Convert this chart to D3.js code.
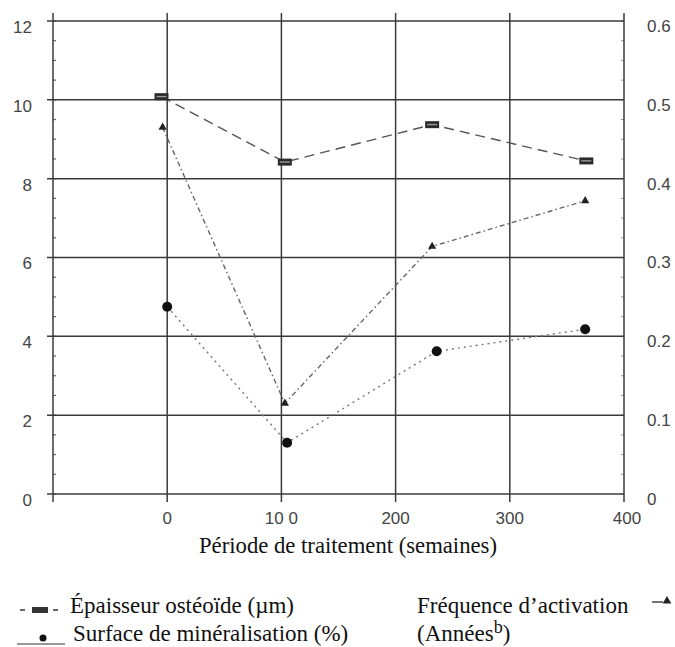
<!DOCTYPE html>
<html><head><meta charset="utf-8">
<script src="https://cdn.jsdelivr.net/npm/d3@7"></script>
<style>body{margin:0;background:#fff} .serif{font-family:'Liberation Serif','Times New Roman',serif} .sans{font-family:'Liberation Sans',Arial,sans-serif}</style>
</head><body>
<svg id="c" width="675" height="647"></svg>
<script>
// Data
const xTickValues = [0, 100, 200, 300, 400];
const xTickLabels = ["0", "10 0", "200", "300", "400"];
const yLeftTicks = [0, 2, 4, 6, 8, 10, 12];
const yRightTicks = [0, 0.1, 0.2, 0.3, 0.4, 0.5, 0.6];
const rightTickLabels = ["0", "0.1", "0.2", "0.3", "0.4", "0.5", "0.6"];

const epaisseurX = [-5, 103, 232, 367];
const epaisseurY = [10.08, 8.42, 9.37, 8.45];
const frequenceX = [-4, 103, 232, 366];
const frequenceY = [0.465, 0.115, 0.314, 0.372];
const surfaceX = [0, 105, 236, 366];
const surfaceY = [4.75, 1.3, 3.62, 4.18];

(function () {
const svg = d3.select("#c");
const pL = 53, pR = 624, pT = 21, pB = 494;
const x = d3.scaleLinear().domain([-100, 400]).range([pL, pR]);
const yL = d3.scaleLinear().domain([0, 12]).range([pB, pT]);
const yR = d3.scaleLinear().domain([0, 0.6]).range([pB, pT]);

const grid = "#3a3a3a";
// minor ticks on left/right axis
const minor = d3.range(0, 12.01, 0.5);
svg.append("g").selectAll("line").data(minor).join("line")
  .attr("x1", pL).attr("x2", pL + 3)
  .attr("y1", d => yL(d)).attr("y2", d => yL(d))
  .attr("stroke", "#666").attr("stroke-width", 1.2);
svg.append("g").selectAll("line").data(minor).join("line")
  .attr("x1", pR - 3).attr("x2", pR)
  .attr("y1", d => yL(d)).attr("y2", d => yL(d))
  .attr("stroke", "#999").attr("stroke-width", 1);

// horizontal gridlines
svg.append("g").selectAll("line").data(yLeftTicks).join("line")
  .attr("x1", pL - 6).attr("x2", pR)
  .attr("y1", d => yL(d)).attr("y2", d => yL(d))
  .attr("stroke", grid).attr("stroke-width", 1.5);
// vertical gridlines
svg.append("g").selectAll("line").data([-100].concat(xTickValues)).join("line")
  .attr("x1", d => x(d)).attr("x2", d => x(d))
  .attr("y1", pT - 8).attr("y2", pB + 8)
  .attr("stroke", grid).attr("stroke-width", 1.5);

// left axis labels
svg.append("g").selectAll("text").data(yLeftTicks).join("text")
  .attr("class", "sans")
  .attr("x", 32).attr("y", d => yL(d) + 6).attr("dy", "0.35em")
  .attr("text-anchor", "end").attr("font-size", 17)
  .attr("fill", "#444").text(d => d);
// right axis labels
svg.append("g").selectAll("text").data(yRightTicks).join("text")
  .attr("class", "sans")
  .attr("x", 647).attr("y", d => yR(d) + 5).attr("dy", "0.35em")
  .attr("text-anchor", "start").attr("font-size", 17)
  .attr("fill", "#444").text((d, i) => rightTickLabels[i]);
// x labels
svg.append("g").selectAll("text").data(xTickValues).join("text")
  .attr("class", "sans")
  .attr("x", (d, i) => x(d) + (i === 4 ? 3 : 0)).attr("y", 518).attr("dy", "0.35em")
  .attr("text-anchor", "middle").attr("font-size", 17)
  .attr("fill", "#444").text((d, i) => xTickLabels[i]);

svg.append("text").attr("class", "serif").attr("x", 348).attr("y", 553).attr("text-anchor", "middle")
  .attr("font-size", 22.7)
  .attr("fill", "#111").text("Période de traitement (semaines)");

// Lines
const lineL = d3.line().x(d => x(d[0])).y(d => yL(d[1]));
const lineR = d3.line().x(d => x(d[0])).y(d => yR(d[1]));
const epa = epaisseurX.map((v, i) => [v, epaisseurY[i]]);
const fre = frequenceX.map((v, i) => [v, frequenceY[i]]);
const sur = surfaceX.map((v, i) => [v, surfaceY[i]]);

svg.append("path").attr("d", lineL(epa)).attr("fill", "none")
  .attr("stroke", "#555").attr("stroke-width", 1.4).attr("stroke-dasharray", "10,6");
svg.append("path").attr("d", lineR(fre)).attr("fill", "none")
  .attr("stroke", "#666").attr("stroke-width", 1.4).attr("stroke-dasharray", "5,3,1.5,3");
svg.append("path").attr("d", lineL(sur)).attr("fill", "none")
  .attr("stroke", "#777").attr("stroke-width", 1.4).attr("stroke-dasharray", "2,4");

// markers
svg.append("g").selectAll("rect").data(epa).join("rect")
  .attr("x", d => x(d[0]) - 7).attr("y", d => yL(d[1]) - 3.5)
  .attr("width", 14).attr("height", 7).attr("fill", "#2a2a2a");
svg.append("g").selectAll("rect").data(epa).join("rect")
  .attr("x", d => x(d[0]) - 5).attr("y", d => yL(d[1]) - 0.8)
  .attr("width", 10).attr("height", 1.4).attr("fill", "#999");
const tri = d3.symbol().type(d3.symbolTriangle).size(30);
svg.append("g").selectAll("path").data(fre).join("path")
  .attr("transform", d => `translate(${x(d[0])},${yR(d[1])})`)
  .attr("d", tri).attr("fill", "#222");
svg.append("g").selectAll("circle").data(sur).join("circle")
  .attr("cx", d => x(d[0])).attr("cy", d => yL(d[1])).attr("r", 5).attr("fill", "#111");

// Legend
const lg = svg.append("g");
lg.append("line").attr("x1", 20).attr("x2", 25).attr("y1", 610).attr("y2", 610)
  .attr("stroke", "#666").attr("stroke-width", 2);
lg.append("line").attr("x1", 53).attr("x2", 58).attr("y1", 610).attr("y2", 610)
  .attr("stroke", "#666").attr("stroke-width", 2);
lg.append("rect").attr("x", 32).attr("y", 607).attr("width", 16).attr("height", 6).attr("fill", "#333");
lg.append("text").attr("class", "serif").attr("x", 70).attr("y", 613).attr("font-size", 23)
  .attr("fill", "#111").text("Épaisseur ostéoïde (µm)");
lg.append("line").attr("x1", 17).attr("x2", 65).attr("y1", 644).attr("y2", 644)
  .attr("stroke", "#777").attr("stroke-width", 1.3);
lg.append("circle").attr("cx", 43).attr("cy", 638).attr("r", 3.5).attr("fill", "#111");
lg.append("text").attr("class", "serif").attr("x", 73).attr("y", 641).attr("font-size", 23)
  .attr("fill", "#111").text("Surface de minéralisation (%)");
lg.append("text").attr("class", "serif").attr("x", 417).attr("y", 613).attr("font-size", 23)
  .attr("fill", "#111").text("Fréquence d’activation");
const t2 = lg.append("text").attr("class", "serif").attr("x", 417).attr("y", 641).attr("font-size", 23)
  .attr("fill", "#111");
t2.append("tspan").text("(Années");
t2.append("tspan").attr("dy", -8).attr("font-size", 18).text("b");
t2.append("tspan").attr("dy", 8).text(")");
lg.append("line").attr("x1", 652).attr("x2", 663).attr("y1", 602).attr("y2", 602)
  .attr("stroke", "#444").attr("stroke-width", 1.5);
lg.append("path").attr("transform", "translate(667,601)").attr("d", d3.symbol().type(d3.symbolTriangle).size(32)).attr("fill", "#222");
})();
</script>
</body></html>
